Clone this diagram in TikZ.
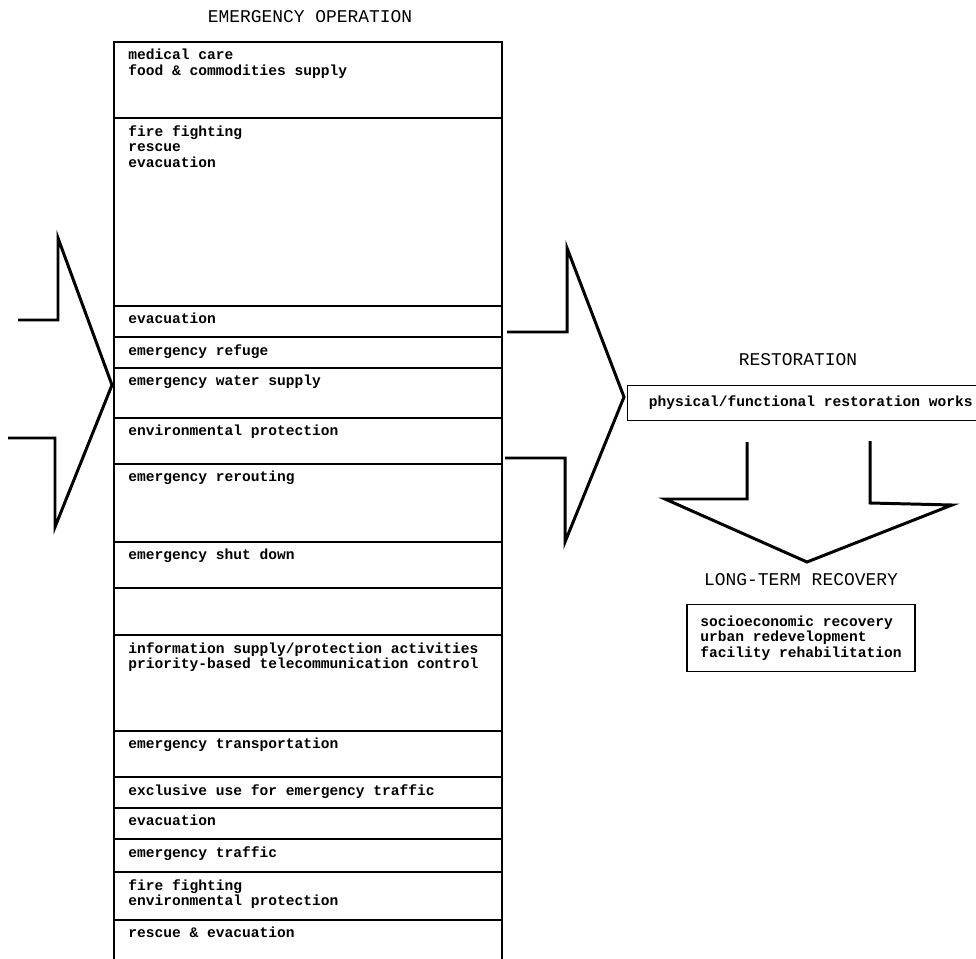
\documentclass[tikz,border=0pt]{standalone}
\usepackage{fontspec}
\newfontfamily\typewriter{Liberation Mono}
\newcommand{\cellfont}{\typewriter\bfseries\fontsize{8.3}{8.9}\selectfont}
\newcommand{\headfont}{\typewriter\fontsize{10.2}{12}\selectfont}
\begin{document}
\begin{tikzpicture}[x=0.02cm, y=-0.02cm]
  \tikzstyle{cellbox}=[draw=black, line width=0.8pt]
  \tikzstyle{celltext}=[anchor=north west, inner sep=0pt, align=left, font=\cellfont]
  \tikzstyle{titre}=[inner sep=0pt, font=\headfont]
  \tikzstyle{bloc}=[draw=black, line width=1.7pt, line join=miter]
  \useasboundingbox (0,0) rectangle (976,959);
  \clip (0,0) rectangle (976,959);
  % emergency operation column
  \node[titre] (emergency) at (310,17) {EMERGENCY OPERATION};
  \foreach \n/\t/\b/\txt in {
    1/42/118/{medical care\\food \& commodities supply},
    2/118/306/{fire fighting\\rescue\\evacuation},
    3/306/337/{evacuation},
    4/337/368/{emergency refuge},
    5/368/418/{emergency water supply},
    6/418/464/{environmental protection},
    7/464/542/{emergency rerouting},
    8/542/588/{emergency shut down},
    9/588/635/{},
    10/635/731/{information supply/protection activities\\priority-based telecommunication control},
    11/731/777/{emergency transportation},
    12/777/808/{exclusive use for emergency traffic},
    13/808/839/{evacuation},
    14/839/872/{emergency traffic},
    15/872/920/{fire fighting\\environmental protection},
    16/920/970/{rescue \& evacuation}} {
    \draw[cellbox] (114,\t) rectangle (502,\b);
    \node[celltext] (row\n) at (128,\t+7) {\txt};
  }
  % arrow into the column
  \draw[bloc] (18,320) -- (58,320) -- (58,238) -- (112,385)
    -- (55,527) -- (55,438) -- (8,438);
  % arrow towards restoration
  \draw[bloc] (507,332) -- (567,332) -- (567,248) -- (624,397)
    -- (565,542) -- (565,458) -- (505,458);
  \node[titre] (restoration) at (798,360) {RESTORATION};
  \node[cellbox, font=\cellfont, anchor=west, minimum height=35*0.02cm,
    minimum width=366*0.02cm, inner xsep=16*0.02cm] (works) at (627,403)
    {physical/functional restoration works};
  % arrow down to recovery
  \draw[bloc] (747,442) -- (747,499) -- (665,499) -- (807,562)
    -- (952,505) -- (870,503) -- (870,441);
  \node[titre] (longterm) at (801,580) {LONG-TERM RECOVERY};
  \node[cellbox, font=\cellfont, align=left, minimum width=228*0.02cm,
    minimum height=67*0.02cm] (recovery) at (801,638)
    {socioeconomic recovery\\urban redevelopment\\facility rehabilitation};
\end{tikzpicture}
\end{document}
